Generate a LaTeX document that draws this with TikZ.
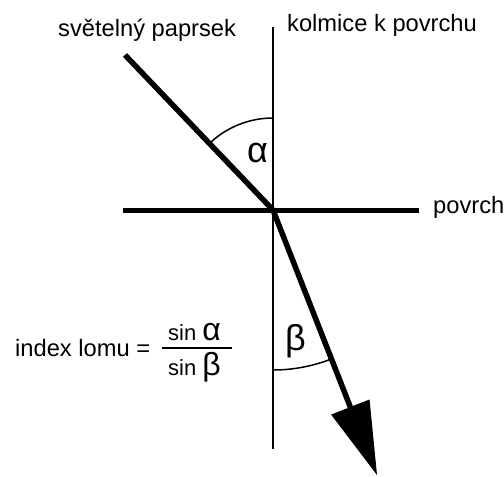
\documentclass[tikz,border=0pt]{standalone}
\usepackage{fontspec}
\setmainfont{Liberation Sans}
\usetikzlibrary{arrows.meta}
\begin{document}
\begin{tikzpicture}[x=1pt, y=1pt,
    ray/.style={line width=5.5pt},
    lbl/.style={inner sep=0pt, anchor=base west, font=\fontsize{23.7}{28}\selectfont},
    greek/.style={inner sep=0pt, anchor=base west, font=\fontsize{36}{40}\selectfont}]
  \useasboundingbox (-273,-267) rectangle (231,210);
  \coordinate (O) at (0,0);
  \coordinate (A) at (-148,155);
  \coordinate (T) at (104,-265);
  \coordinate (ntop) at (0,183);
  \coordinate (nbot) at (0,-239);
  \coordinate (sL) at (-150,0);
  \coordinate (sR) at (146,0);
  \draw[line width=2pt] (ntop) -- (nbot);
  \draw[line width=5pt] (sL) -- (sR);
  \draw[ray] (A) -- (O);
  \draw[ray, -{Triangle[length=73pt, width=41pt, line width=1pt]}] (O) -- (T);
  % angle arcs
  \draw[line width=1.5pt] (O) ++(90:92) arc (90:133.7:92);
  \draw[line width=1.5pt] (O) ++(-90:160) arc (-90:-68.6:160);
  \node[greek] (alpha) at (-26,48) {α};
  \node[greek] (beta) at (12,-140) {β};
  % labels
  \node[lbl] (ray) at (-215,173) {světelný paprsek};
  \node[lbl] (normal) at (14,178) {kolmice k povrchu};
  \node[lbl] (surface) at (160,-3) {povrch};
  \node[lbl] (index) at (-258,-146) {index lomu =};
  \node[lbl, font=\fontsize{22}{26}\selectfont] (num) at (-105,-130)
    {sin {\fontsize{32}{36}\selectfont α}};
  \node[lbl, font=\fontsize{22}{26}\selectfont] (den) at (-105,-165)
    {sin {\fontsize{32}{36}\selectfont β}};
  \coordinate (barL) at (-111,-138);
  \coordinate (barR) at (-41,-138);
  \draw[line width=1.5pt] (barL) -- (barR);
\end{tikzpicture}
\end{document}
